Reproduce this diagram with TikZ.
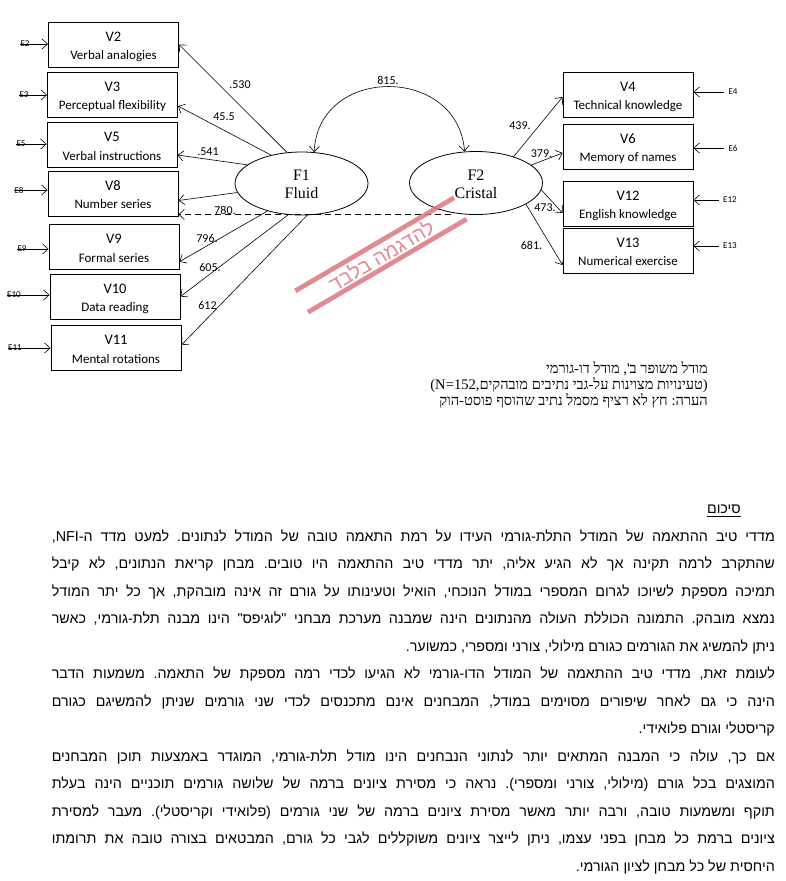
\documentclass[tikz,border=0pt]{standalone}
\usepackage{fontspec}
\setmainfont{Liberation Serif}
\newfontfamily\hebsans[Script=Hebrew]{Liberation Sans}
\newfontfamily\hebserif[Script=Hebrew]{Liberation Serif}
\newfontfamily\calib{Carlito}
\TeXXeTstate=1
\frenchspacing
\usetikzlibrary{arrows.meta,calc,shapes.geometric}
\definecolor{wm}{RGB}{222,118,126}
\tikzset{
 vbox/.style={draw, line width=0.9pt, minimum width=130pt, minimum height=45pt, inner sep=0pt},
 vnum/.style={font=\calib\fontsize{14.5}{14.5}\selectfont, inner sep=0pt, anchor=base},
 vtxt/.style={font=\calib\fontsize{13}{13}\selectfont, inner sep=0pt, anchor=base},
 coef/.style={font=\calib\fontsize{12}{12}\selectfont, inner sep=0pt},
 elab/.style={font=\calib\fontsize{9}{9}\selectfont, inner sep=0pt},
 fac/.style={draw, ellipse, line width=0.8pt, minimum width=133pt, minimum height=63pt, inner sep=0pt},
 ftxt/.style={font=\fontsize{16}{16}\selectfont, inner sep=0pt, anchor=base},
 arr/.style={-{Straight Barb[length=5.5pt,width=10pt]}, line width=0.6pt},
 darr/.style={{Straight Barb[length=5.5pt,width=10pt]}-{Straight Barb[length=5.5pt,width=10pt]}, line width=0.6pt},
 dasharr/.style={arr, dash pattern=on 6pt off 4pt},
 hebp/.style={font=\hebsans\fontsize{14.3}{14.3}\selectfont, inner sep=0pt, anchor=base east},
 hebc/.style={font=\hebserif\fontsize{14.6}{14.6}\selectfont, inner sep=0pt, anchor=base east},
 wmline/.style={draw=wm, line width=4.7pt, opacity=0.85},
}
\newcommand\obsbx[5]{%
 \node[vbox] (#1) at (#2,#3) {};
 \node[vnum] (#1v) at (#2,#3-3.3) {#4};
 \node[vtxt] (#1t) at (#2,#3+15) {#5};}
\newcommand\jline[3]{\node[hebp] (#1) at (775,#2) {\hbox to 723pt{#3}};}
\newcommand\rline[3]{\node[hebp] (#1) at (775,#2) {#3};}
\begin{document}
\begin{tikzpicture}[x=1pt,y=-1pt]
\fill[white] (0,0) rectangle (786,881);
\useasboundingbox (0,0) rectangle (786,881);

% observed variables, left
\obsbx{v2}{113.5}{44.5}{V2}{Verbal analogies}
\obsbx{v3}{112.5}{94.5}{V3}{Perceptual flexibility}
\obsbx{v5}{112}{145}{V5}{Verbal instructions}
\obsbx{v8}{113}{193.5}{V8}{Number series}
\obsbx{v9}{114}{247}{V9}{Formal series}
\obsbx{v10}{115}{296.5}{V10}{Data reading}
\obsbx{v11}{116}{348}{V11}{Mental rotations}
% right
\obsbx{v4}{628}{94.5}{V4}{Technical knowledge}
\obsbx{v6}{628}{146.5}{V6}{Memory of names}
\obsbx{v12}{628}{203.5}{V12}{English knowledge}
\obsbx{v13}{628}{250.5}{V13}{Numerical exercise}

% factors
\node[fac] (f1) at (301.5,183.5) {};
\node[ftxt] (f1a) at (301.5,180.5) {F1};
\node[ftxt] (f1b) at (301.5,198.5) {Fluid};
\node[fac] (f2) at (476,183) {};
\node[ftxt] (f2a) at (476,180) {F2};
\node[ftxt] (f2b) at (476,198) {Cristal};

% error terms left
\node[elab] (e2) at (25,44) {E2};
\node[elab] (e3) at (24,95) {E3};
\node[elab] (e5) at (21,144) {E5};
\node[elab] (e8) at (19,190) {E8};
\node[elab] (e9) at (22,249) {E9};
\node[elab] (e10) at (14,295) {E10};
\node[elab] (e11) at (15,348) {E11};
\foreach \e/\v in {e2/v2,e3/v3,e5/v5,e8/v8,e9/v9,e10/v10,e11/v11}
  \draw[arr] (\e.west) -- (\e.west -| \v.west);
% error terms right
\node[elab] (e4) at (733,92) {E4};
\node[elab] (e6) at (733,148) {E6};
\node[elab] (e12) at (730,200) {E12};
\node[elab] (e13) at (730,246) {E13};
\foreach \e/\v in {e4/v4,e6/v6,e12/v12,e13/v13}
  \draw[arr] ($(\e.west)+(-4,0)$) -- (\e.west -| \v.east);

% loadings F1
\draw[arr] (f1.115) -- (v2.east);
\draw[arr] (f1.137) -- ($(v3.east)+(0,11.5)$);
\draw[arr] (f1.161) -- ($(v5.east)+(0,10)$);
\draw[arr] (f1.188) -- ($(v8.east)+(0,7)$);
\draw[arr] (f1.219) -- ($(v9.east)+(0,14.7)$);
\draw[arr] (f1.247) -- (v10.east);
\draw[arr] (f1.280) -- ($(v11.east)+(0,-3)$);
\coordinate (d8) at ($(v8.east)+(0,21)$);
\draw[dasharr] (f2.230 |- d8) -- (d8);
% loadings F2
\draw[arr] (f2.35) -- ($(v4.west)+(0,2.5)$);
\draw[arr] (f2.18) -- ($(v6.west)+(0,6.5)$);
\draw[arr] (f2.-6) -- ($(v12.west)+(0,9.5)$);
\draw[arr] (f2.-23) -- ($(v13.west)+(0,14.5)$);
% correlation
\draw[darr] (f1.68) .. controls (318,65) and (458,65) .. (f2.110);

% coefficients
\node[coef] (c1) at (240,85) {.530};
\node[coef] (c2) at (224,117) {45.5};
\node[coef] (c3) at (208,151.5) {.541};
\node[coef] (c4) at (225,210) {780.};
\node[coef] (c5) at (207,238) {796.};
\node[coef] (c6) at (210,267.5) {605.};
\node[coef] (c7) at (207.5,305) {612};
\node[coef] (c8) at (388,80.5) {815.};
\node[coef] (c9) at (520,126) {439.};
\node[coef] (c10) at (541.5,153.5) {379.};
\node[coef] (c11) at (545,207.5) {473.};
\node[coef] (c12) at (531.5,245) {681.};

% watermark
\begin{scope}[shift={(381,255)}, rotate=30.4]
 \draw[wmline] (-92,-12.4) -- (92,-12.4);
 \draw[wmline] (-92,12.4) -- (92,12.4);
 \node[transform shape, text=wm, opacity=0.85, font=\hebsans\fontsize{20}{20}\selectfont, inner sep=0pt] (wmt) at (0,0.5) {\beginR להדגמה בלבד\endR};
\end{scope}

% caption
\node[hebc] (cap1) at (708,373) {\beginR מודל משופר ב', מודל דו-גורמי\endR};
\node[hebc] (cap2) at (708,389) {\beginR (טעינויות מצוינות על-גבי נתיבים מובהקים,\beginL N=152\endL)\endR};
\node[hebc] (cap3) at (708,405) {\beginR הערה: חץ לא רציף מסמל נתיב שהוסף פוסט-הוק\endR};

% summary
\node[hebp] (hd) at (741,513) {\beginR סיכום\endR};
\draw[line width=0.7pt] ($(hd.base west)+(0,3.5)$) -- ($(hd.base east)+(0,3.5)$);
\jline{p1}{541}{\beginR מדדי טיב ההתאמה של המודל התלת-גורמי העידו על רמת התאמה טובה של המודל לנתונים. למעט מדד ה-\beginL NFI\endL,\endR}
\jline{p2}{568.5}{\beginR שהתקרב לרמה תקינה אך לא הגיע אליה, יתר מדדי טיב ההתאמה היו טובים. מבחן קריאת הנתונים, לא קיבל\endR}
\jline{p3}{596}{\beginR תמיכה מספקת לשיוכו לגרום המספרי במודל הנוכחי, הואיל וטעינותו על גורם זה אינה מובהקת, אך כל יתר המודל\endR}
\jline{p4}{623.5}{\beginR נמצא מובהק. התמונה הכוללת העולה מהנתונים הינה שמבנה מערכת מבחני "לוגיפס" הינו מבנה תלת-גורמי, כאשר\endR}
\rline{p5}{651}{\beginR ניתן להמשיג את הגורמים כגורם מילולי, צורני ומספרי, כמשוער.\endR}
\jline{p6}{678.5}{\beginR לעומת זאת, מדדי טיב ההתאמה של המודל הדו-גורמי לא הגיעו לכדי רמה מספקת של התאמה. משמעות הדבר\endR}
\jline{p7}{706}{\beginR הינה כי גם לאחר שיפורים מסוימים במודל, המבחנים אינם מתכנסים לכדי שני גורמים שניתן להמשיגם כגורם\endR}
\rline{p8}{733.5}{\beginR קריסטלי וגורם פלואידי.\endR}
\jline{p9}{761}{\beginR אם כך, עולה כי המבנה המתאים יותר לנתוני הנבחנים הינו מודל תלת-גורמי, המוגדר באמצעות תוכן המבחנים\endR}
\jline{p10}{788.5}{\beginR המוצגים בכל גורם (מילולי, צורני ומספרי). נראה כי מסירת ציונים ברמה של שלושה גורמים תוכניים הינה בעלת\endR}
\jline{p11}{816}{\beginR תוקף ומשמעות טובה, ורבה יותר מאשר מסירת ציונים ברמה של שני גורמים (פלואידי וקריסטלי). מעבר למסירת\endR}
\jline{p12}{843.5}{\beginR ציונים ברמת כל מבחן בפני עצמו, ניתן לייצר ציונים משוקללים לגבי כל גורם, המבטאים בצורה טובה את תרומתו\endR}
\rline{p13}{871}{\beginR היחסית של כל מבחן לציון הגורמי.\endR}
\end{tikzpicture}
\end{document}
